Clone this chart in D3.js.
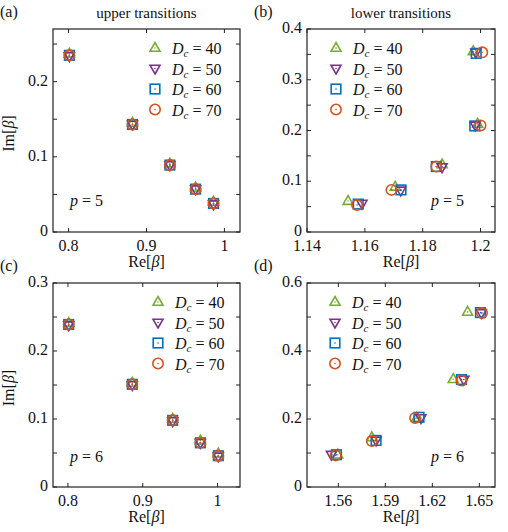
<!DOCTYPE html>
<html>
<head>
<meta charset="utf-8">
<script src="https://cdn.jsdelivr.net/npm/d3@7"></script>
<style>
  body { margin: 0; background: #fff; }
  text { font-family: "Liberation Serif", "Times New Roman", serif; fill: #111; }
</style>
</head>
<body>
<div id="chart"></div>
<script>
// series names and colours
const seriesNames = ["40", "50", "60", "70"];
const seriesColors = ["#77ac30", "#7e2f8e", "#0072bd", "#d95319"];
const seriesShapes = ["up", "down", "square", "circle"];

// (a) upper transitions, p = 5
const aRe40 = [0.801, 0.882, 0.930, 0.963, 0.986];
const aIm40 = [0.237, 0.145, 0.091, 0.059, 0.040];
const aRe50 = [0.801, 0.882, 0.930, 0.963, 0.986];
const aIm50 = [0.234, 0.143, 0.089, 0.057, 0.037];
const aRe60 = [0.801, 0.882, 0.930, 0.963, 0.986];
const aIm60 = [0.235, 0.143, 0.089, 0.057, 0.038];
const aRe70 = [0.801, 0.882, 0.930, 0.963, 0.986];
const aIm70 = [0.235, 0.143, 0.089, 0.057, 0.038];

// (b) lower transitions, p = 5
const bRe40 = [1.1542, 1.1705, 1.1867, 1.1990, 1.1975];
const bIm40 = [0.061, 0.089, 0.133, 0.213, 0.356];
const bRe50 = [1.1590, 1.1724, 1.1867, 1.1982, 1.1984];
const bIm50 = [0.056, 0.082, 0.128, 0.210, 0.354];
const bRe60 = [1.1577, 1.1725, 1.1847, 1.1980, 1.1985];
const bIm60 = [0.055, 0.083, 0.129, 0.209, 0.352];
const bRe70 = [1.1573, 1.1692, 1.1847, 1.2000, 1.2006];
const bIm70 = [0.053, 0.083, 0.129, 0.210, 0.354];

// (c) upper transitions, p = 6
const cRe40 = [0.801, 0.886, 0.940, 0.977, 1.001];
const cIm40 = [0.241, 0.153, 0.100, 0.068, 0.049];
const cRe50 = [0.801, 0.886, 0.940, 0.977, 1.001];
const cIm50 = [0.238, 0.150, 0.097, 0.065, 0.045];
const cRe60 = [0.801, 0.886, 0.940, 0.977, 1.001];
const cIm60 = [0.239, 0.151, 0.098, 0.065, 0.046];
const cRe70 = [0.801, 0.886, 0.940, 0.977, 1.001];
const cIm70 = [0.239, 0.151, 0.098, 0.065, 0.046];

// (d) lower transitions, p = 6
const dRe40 = [1.5596, 1.5814, 1.6100, 1.6334, 1.6425];
const dIm40 = [0.095, 0.146, 0.203, 0.317, 0.515];
const dRe50 = [1.5556, 1.5841, 1.6127, 1.6401, 1.6513];
const dIm50 = [0.095, 0.137, 0.203, 0.316, 0.512];
const dRe60 = [1.5588, 1.5841, 1.6115, 1.6386, 1.6507];
const dIm60 = [0.095, 0.137, 0.205, 0.316, 0.513];
const dRe70 = [1.5583, 1.5814, 1.6090, 1.6386, 1.6517];
const dIm70 = [0.093, 0.135, 0.203, 0.313, 0.512];

// tick values
const aXTicks = [0.8, 0.9, 1];
const aYTicks = [0, 0.05, 0.1, 0.15, 0.2, 0.25];
const bXTicks = [1.14, 1.16, 1.18, 1.2];
const bYTicks = [0, 0.05, 0.1, 0.15, 0.2, 0.25, 0.3, 0.35, 0.4];
const cXTicks = [0.8, 0.9, 1];
const cYTicks = [0, 0.05, 0.1, 0.15, 0.2, 0.25, 0.3];
const dXTicks = [1.56, 1.59, 1.62, 1.65];
const dYTicks = [0, 0.1, 0.2, 0.3, 0.4, 0.5, 0.6];

const zip = (xs, ys) => xs.map((x, i) => [x, ys[i]]);

const panels = [
  {label: "(a)", title: "upper transitions", p: "5", ylab: true,
   box: [53, 29, 240, 232], xDom: [0.78, 1.02], yDom: [0, 0.27],
   xTicks: aXTicks, yTicks: aYTicks, yLabelEvery: 2,
   series: [zip(aRe40, aIm40), zip(aRe50, aIm50), zip(aRe60, aIm60), zip(aRe70, aIm70)],
   legend: [155, 48], pPos: [70, 206]},
  {label: "(b)", title: "lower transitions", p: "5", ylab: false,
   box: [307, 29, 495, 232], xDom: [1.14, 1.205], yDom: [0, 0.4],
   xTicks: bXTicks, yTicks: bYTicks, yLabelEvery: 2,
   series: [zip(bRe40, bIm40), zip(bRe50, bIm50), zip(bRe60, bIm60), zip(bRe70, bIm70)],
   legend: [336, 48], pPos: [431, 206]},
  {label: "(c)", title: null, p: "6", ylab: true,
   box: [53, 283, 240, 487], xDom: [0.78, 1.03], yDom: [0, 0.3],
   xTicks: cXTicks, yTicks: cYTicks, yLabelEvery: 2,
   series: [zip(cRe40, cIm40), zip(cRe50, cIm50), zip(cRe60, cIm60), zip(cRe70, cIm70)],
   legend: [158, 302], pPos: [70, 462]},
  {label: "(d)", title: null, p: "6", ylab: false,
   box: [307, 283, 495, 487], xDom: [1.54, 1.66], yDom: [0, 0.6],
   xTicks: dXTicks, yTicks: dYTicks, yLabelEvery: 2,
   series: [zip(dRe40, dIm40), zip(dRe50, dIm50), zip(dRe60, dIm60), zip(dRe70, dIm70)],
   legend: [335, 302], pPos: [431, 462]}
];

const svg = d3.select("#chart").append("svg")
    .attr("width", 508)
    .attr("height", 532);

function marker(g, shape, color) {
  if (shape === "up") {
    g.append("path").attr("d", "M0,-5.5L5,3.3L-5,3.3Z");
  } else if (shape === "down") {
    g.append("path").attr("d", "M0,5.5L5,-3.3L-5,-3.3Z");
  } else if (shape === "square") {
    g.append("rect").attr("x", -4.8).attr("y", -4.8).attr("width", 9.6).attr("height", 9.6);
  } else {
    g.append("circle").attr("r", 5.2);
  }
  g.selectAll("path,rect,circle")
    .attr("fill", "none")
    .attr("stroke", color)
    .attr("stroke-width", 1.6);
  g.append("circle").attr("r", 0.8).attr("fill", color);
}

const fmt = v => String(+v.toFixed(3));

panels.forEach(P => {
  const [x0, y0, x1, y1] = P.box;
  const x = d3.scaleLinear().domain(P.xDom).range([x0, x1]);
  const y = d3.scaleLinear().domain(P.yDom).range([y1, y0]);
  const g = svg.append("g");

  // ticks, inward on all four sides
  const tl = 4;
  P.xTicks.forEach(v => {
    g.append("line").attr("x1", x(v)).attr("x2", x(v)).attr("y1", y1).attr("y2", y1 - tl)
      .attr("stroke", "#222");
    g.append("line").attr("x1", x(v)).attr("x2", x(v)).attr("y1", y0).attr("y2", y0 + tl)
      .attr("stroke", "#222");
    g.append("text").attr("x", x(v)).attr("y", y1 + 19)
      .attr("text-anchor", "middle").attr("font-size", 16).text(fmt(v));
  });
  P.yTicks.forEach((v, i) => {
    g.append("line").attr("x1", x0).attr("x2", x0 + tl).attr("y1", y(v)).attr("y2", y(v))
      .attr("stroke", "#222");
    g.append("line").attr("x1", x1).attr("x2", x1 - tl).attr("y1", y(v)).attr("y2", y(v))
      .attr("stroke", "#222");
    if (i % P.yLabelEvery === 0) {
      g.append("text").attr("x", x0 - 5).attr("y", y(v) + 4)
        .attr("text-anchor", "end").attr("font-size", 16).text(fmt(v));
    }
  });

  g.append("rect").attr("x", x0).attr("y", y0)
    .attr("width", x1 - x0).attr("height", y1 - y0)
    .attr("fill", "none").attr("stroke", "#222").attr("stroke-width", 1.2);

  // axis labels
  const xl = g.append("text").attr("x", (x0 + x1) / 2).attr("y", y1 + 35)
    .attr("text-anchor", "middle").attr("font-size", 16);
  xl.append("tspan").text("Re[");
  xl.append("tspan").attr("font-style", "italic").text("β");
  xl.append("tspan").text("]");
  if (P.ylab) {
    const yl = g.append("text")
      .attr("transform", `translate(${x0 - 39},${(y0 + y1) / 2 + 3}) rotate(-90)`)
      .attr("text-anchor", "middle").attr("font-size", 16);
    yl.append("tspan").text("Im[");
    yl.append("tspan").attr("font-style", "italic").text("β");
    yl.append("tspan").text("]");
  }

  // panel label and title
  g.append("text").attr("x", x0 - 53).attr("y", y0 - 12).attr("font-size", 16).text(P.label);
  if (P.title) {
    g.append("text").attr("x", (x0 + x1) / 2).attr("y", y0 - 11)
      .attr("text-anchor", "middle").attr("font-size", 15).text(P.title);
  }

  // data points
  P.series.forEach((pts, si) => {
    pts.forEach(d => {
      const m = g.append("g").attr("transform", `translate(${x(d[0])},${y(d[1])})`);
      marker(m, seriesShapes[si], seriesColors[si]);
    });
  });

  // legend
  seriesNames.forEach((name, si) => {
    const ly = P.legend[1] + si * 20.5;
    const m = g.append("g").attr("transform", `translate(${P.legend[0]},${ly})`);
    marker(m, seriesShapes[si], seriesColors[si]);
    const t = g.append("text").attr("x", P.legend[0] + 17).attr("y", ly + 6).attr("font-size", 16);
    t.append("tspan").attr("font-style", "italic").text("D");
    t.append("tspan").attr("font-style", "italic").attr("font-size", 11).attr("dy", 3).text("c");
    t.append("tspan").attr("dy", -3).text(" = " + name);
  });

  // p label
  const pt = g.append("text").attr("x", P.pPos[0]).attr("y", P.pPos[1]).attr("font-size", 16);
  pt.append("tspan").attr("font-style", "italic").text("p");
  pt.append("tspan").text(" = " + P.p);
});
</script>
</body>
</html>
